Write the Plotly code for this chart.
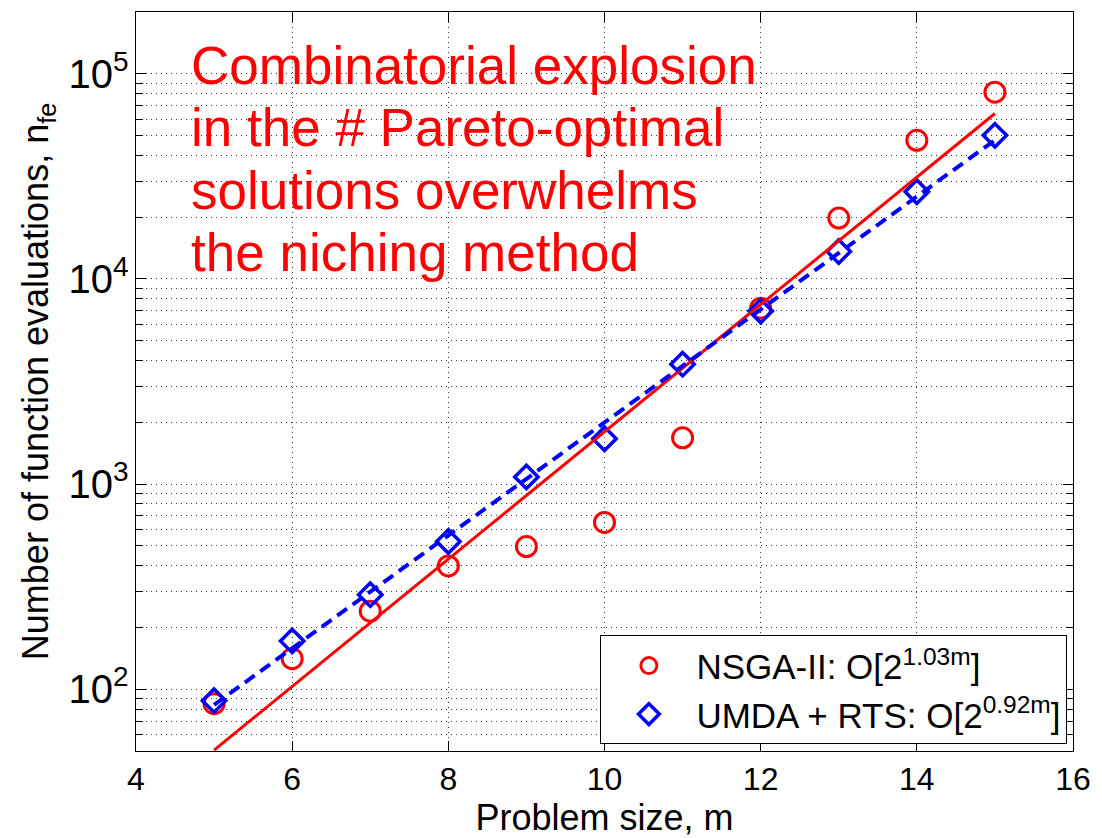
import plotly.graph_objects as go

# ---- data ----
m_vals = [5, 6, 7, 8, 9, 10, 11, 12, 13, 14, 15]
nsga_nfe = [85, 141, 240, 399, 496, 650, 1680, 7200, 19800, 47400, 81300]
umda_nfe = [88, 172, 289, 525, 1084, 1663, 3840, 6970, 13600, 26600, 50100]

fit_m = [5, 15]
nsga_fit = [50.5, 64000]
umda_fit = [84, 47500]

x_ticks = [4, 6, 8, 10, 12, 14, 16]

nsga_label = "NSGA-II: O[2<sup>1.03m</sup>]"
umda_label = "UMDA + RTS: O[2<sup>0.92m</sup>]"
note_lines = ["Combinatorial explosion",
              "in the # Pareto-optimal",
              "solutions overwhelms",
              "the niching method"]

RED = "#FF0000"
BLUE = "#0000FF"
FONT = "Liberation Sans, Arial, sans-serif"
GRID = "#333333"

fig = go.Figure()

fig.add_trace(go.Scatter(x=m_vals, y=nsga_nfe, mode="markers", name=nsga_label,
                         marker=dict(symbol="circle-open", size=20, color=RED,
                                     line=dict(width=3, color=RED))))
fig.add_trace(go.Scatter(x=m_vals, y=umda_nfe, mode="markers", name=umda_label,
                         marker=dict(symbol="diamond-open", size=18, color=BLUE,
                                     line=dict(width=3.5, color=BLUE))))
fig.add_trace(go.Scatter(x=fit_m, y=nsga_fit, mode="lines", showlegend=False,
                         line=dict(color=RED, width=3)))
fig.add_trace(go.Scatter(x=fit_m, y=umda_fit, mode="lines", showlegend=False,
                         line=dict(color=BLUE, width=4, dash="12px,7px")))

# white box behind the note text
fig.add_shape(type="rect", xref="paper", yref="paper",
              x0=0.036, x1=0.679, y0=0.622, y1=0.993,
              fillcolor="white", line=dict(width=0), layer="between")

note_y = [0.927, 0.844, 0.759, 0.674]
for txt, yy in zip(note_lines, note_y):
    fig.add_annotation(text=txt, xref="paper", yref="paper", x=0.057, y=yy,
                       xanchor="left", yanchor="middle", showarrow=False,
                       font=dict(family=FONT, size=53, color=RED))

fig.update_layout(
    width=1102, height=838,
    margin=dict(l=136, r=23, t=11, b=83),
    paper_bgcolor="white", plot_bgcolor="white",
    font=dict(family=FONT, color="black"),
    legend=dict(x=0.994, y=0.009, xanchor="right", yanchor="bottom",
                bgcolor="white", bordercolor="black", borderwidth=1,
                font=dict(family=FONT, size=35, color="black"),
                itemwidth=85, tracegroupgap=0,
                entrywidth=500, entrywidthmode="pixels"),
)

fig.update_xaxes(
    range=[4, 16], tickvals=x_ticks,
    ticks="inside", ticklen=10, tickcolor="black",
    showline=True, linecolor="black", linewidth=1, mirror="ticks",
    showgrid=True, gridcolor=GRID, griddash="1px,4px", gridwidth=1,
    zeroline=False,
    tickfont=dict(family=FONT, size=32, color="black"),
    title=dict(text="Problem size, m", font=dict(family=FONT, size=36, color="black"),
               standoff=4),
)

fig.update_yaxes(
    type="log", range=[1.69897, 5.30103], dtick=1, exponentformat="power",
    ticks="inside", ticklen=10, tickcolor="black",
    showline=True, linecolor="black", linewidth=1, mirror="ticks",
    showgrid=True, gridcolor=GRID, griddash="1px,4px", gridwidth=1,
    minor=dict(ticks="inside", ticklen=7, tickcolor="black", dtick="D1",
               showgrid=True, gridcolor=GRID, griddash="1px,4px", gridwidth=1),
    zeroline=False,
    tickfont=dict(family=FONT, size=32, color="black"),
    title=dict(text="Number of function evaluations, n<sub>fe</sub>",
               font=dict(family=FONT, size=36, color="black"), standoff=8),
)

fig.write_html("out.html")
